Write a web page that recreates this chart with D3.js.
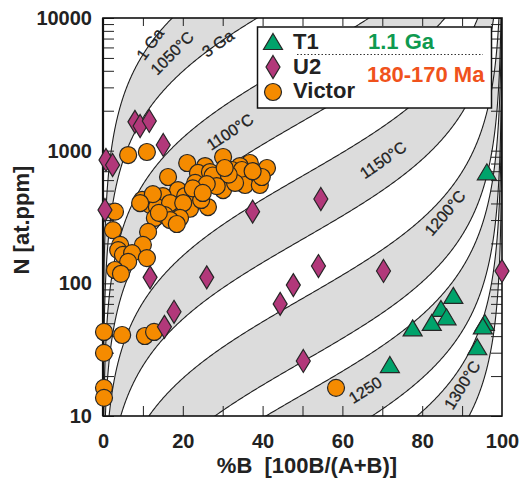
<!DOCTYPE html>
<html lang="en">
<head>
<meta charset="UTF-8">
<title>N vs %B isotherms</title>
<style>
  html, body { margin: 0; padding: 0; background: #fff; }
  svg text { font-family: "Liberation Sans", Arial, sans-serif; }
</style>
</head>
<body>
<svg id="chart" width="523" height="483"></svg>
<script src="https://cdn.jsdelivr.net/npm/d3@7"></script>
<script>
// isotherms: k*t (per at.ppm) at 1 Ga, band runs from 1 Ga to 3 Ga
const isoTemps = [1050, 1100, 1150, 1200, 1250, 1300];
const isoK1Ga = [2.1e-5, 2.0e-4, 1.55e-3, 0.013, 0.069, 0.37];
const ageFactor = 3;

// curve labels (data position)
const isoLabels = ["1 Ga", "1050°C", "3 Ga", "1100°C", "1150°C", "1200°C", "1250", "1300°C"];
const isoLabelB = [11.8, 17.3, 28.8, 31.8, 70.2, 85.7, 65.7, 90];
const isoLabelN = [6370, 5445, 6424, 1384, 850, 339, 15.7, 17.1];

// samples
const t1B = [87.8, 84.7, 86.1, 82.4, 77.6, 95.7, 95.2, 93.8, 71.9, 96.2];
const t1N = [79, 63, 54.5, 49.4, 45, 49.4, 46.6, 32.4, 23.8, 675];

const u2B = [8.0, 9.3, 11.6, 15.1, 0.75, 2.4, 0.5, 11.8, 26.0, 17.8, 15.4, 37.5, 54.6, 54.0, 47.7, 44.4, 70.3, 50.2, 100];
const u2N = [1650, 1535, 1675, 1104, 851, 780, 357, 111, 111, 61, 47, 347, 432, 135, 97, 70, 124, 26, 124];

const victorB = [6.3, 11.0, 30.1, 21.1, 25.6, 36.8, 41.1, 34.3, 16.3, 23.8, 28.8, 32.3, 34.8, 38.8, 26.8,
  23.1, 35.6, 30.1, 18.8, 33.1, 39.3, 39.8, 15.0, 20.6, 9.8, 11.8, 17.3, 21.8, 26.3, 24.6, 13.5, 16.8, 20.1,
  13.0, 19.3, 15.5, 16.8, 27.5, 31.5, 37.5, 28.5, 26.0, 22.5, 14.0, 18.5, 12.5, 30.5, 25.0, 9.3, 3.0,
  11.3, 2.5, 4.3, 10.0, 3.8, 5.0, 7.3, 11.0, 6.3, 3.0, 4.5,
  0.25, 4.8, 10.5, 12.8, 0.25, 0.25, 0.25, 58.4];
const victorN = [927, 977, 896, 807, 766, 807, 740, 766, 633, 679, 622, 715, 715, 622, 690,
  571, 551, 505, 505, 571, 551, 633, 455, 455, 425, 390, 357, 365, 376, 425, 376, 403, 403,
  311, 311, 327, 300, 650, 660, 700, 540, 560, 520, 340, 280, 470, 740, 480, 403, 347,
  244, 252, 195, 195, 178, 164, 169, 155, 145, 126, 118,
  43, 40.8, 40.1, 43, 29.9, 16.3, 13.7, 16.3];

const xTicksMajor = [0, 20, 40, 60, 80, 100];
const yTicksMajor = [10, 100, 1000, 10000];

const svg = d3.select("#chart");
const m = { l: 103, r: 502, t: 18, b: 416 };
const x = d3.scaleLinear().domain([0, 100]).range([m.l, m.r]);
const y = d3.scaleLog().domain([10, 10000]).range([m.b, m.t]);

svg.append("defs").append("clipPath").attr("id", "plot")
  .append("rect").attr("x", m.l).attr("y", m.t).attr("width", m.r - m.l).attr("height", m.b - m.t);

// second-order aggregation: %B = 100 kN/(1+kN)
function curvePts(K) {
  const pts = [];
  for (let lg = 0; lg <= 5.0001; lg += 0.004) {
    const N = Math.pow(10, lg);
    pts.push([100 * K * N / (1 + K * N), N]);
  }
  return pts;
}

const line = d3.line().x(d => x(d[0])).y(d => y(d[1]));
const gIso = svg.append("g").attr("clip-path", "url(#plot)");

isoK1Ga.forEach(k => {
  const a = curvePts(k), b = curvePts(k * ageFactor);
  gIso.append("path")
    .attr("d", line(a.concat(b.slice().reverse())) + "Z")
    .attr("fill", "#dcdcdc");
});
isoK1Ga.forEach(k => {
  [k, k * ageFactor].forEach(kk => {
    gIso.append("path").attr("d", line(curvePts(kk)))
      .attr("fill", "none").attr("stroke", "#1e1e1e").attr("stroke-width", 1.1);
  });
});

// slope of the curves only depends on %B
function angleAt(B) {
  const b = B / 100;
  const dlog = 1 / (Math.LN10 * b * (1 - b) * 100);
  const pxDec = y(10) - y(100);
  const pxB = x(1) - x(0);
  return Math.atan2(-dlog * pxDec, pxB) * 180 / Math.PI;
}

svg.append("g").selectAll("text").data(isoLabels).join("text")
  .attr("transform", (d, i) => `translate(${x(isoLabelB[i])},${y(isoLabelN[i])}) rotate(${angleAt(isoLabelB[i])})`)
  .attr("text-anchor", "middle").attr("dy", "0.35em")
  .attr("font-size", 16).attr("fill", "#222")
  .attr("stroke", "#222").attr("stroke-width", 0.3)
  .text(d => d);

// ticks
const minor = [];
[10, 100, 1000].forEach(d => { for (let i = 1; i < 10; i++) minor.push(d * i); });
minor.push(10000);

function styleTicks(g) {
  g.select(".domain").remove();
  g.selectAll(".tick line").attr("stroke", "#222").attr("stroke-width", 1);
}
svg.append("g").attr("transform", `translate(${m.l},0)`)
  .call(d3.axisLeft(y).tickValues(minor).tickSize(-11).tickFormat("")).call(styleTicks);
svg.append("g").attr("transform", `translate(${m.r},0)`)
  .call(d3.axisRight(y).tickValues(minor).tickSize(-11).tickFormat("")).call(styleTicks);
svg.append("g").attr("transform", `translate(0,${m.b})`)
  .call(d3.axisBottom(x).tickValues(d3.range(10, 100, 10)).tickSize(-10).tickFormat("")).call(styleTicks);
svg.append("g").attr("transform", `translate(0,${m.t})`)
  .call(d3.axisTop(x).tickValues(d3.range(10, 100, 10)).tickSize(-8).tickFormat("")).call(styleTicks);

// tick labels
const yl = svg.append("g").attr("transform", `translate(${m.l},0)`)
  .call(d3.axisLeft(y).tickValues(yTicksMajor).tickSize(0).tickPadding(11).tickFormat(d3.format("d")));
yl.select(".domain").remove();
yl.selectAll("text").attr("font-size", 20).attr("font-weight", "bold").attr("fill", "#222")
  .style("font-family", '"Liberation Sans", Arial, sans-serif');

const xl = svg.append("g").attr("transform", `translate(0,${m.b})`)
  .call(d3.axisBottom(x).tickValues(xTicksMajor).tickSize(0).tickPadding(18));
xl.select(".domain").remove();
xl.selectAll("text").attr("font-size", 20).attr("font-weight", "bold").attr("fill", "#222")
  .style("font-family", '"Liberation Sans", Arial, sans-serif');

// frame
svg.append("rect").attr("x", m.l).attr("y", m.t).attr("width", m.r - m.l).attr("height", m.b - m.t)
  .attr("fill", "none").attr("stroke", "#111").attr("stroke-width", 1.6);
svg.append("line").attr("x1", m.l).attr("x2", m.l).attr("y1", m.t).attr("y2", m.b)
  .attr("stroke", "#111").attr("stroke-width", 2.2);

// axis titles
svg.append("text").attr("x", 307).attr("y", 473).attr("text-anchor", "middle")
  .attr("font-size", 22).attr("font-weight", "bold").attr("fill", "#222")
  .style("white-space", "pre").text("%B  [100B/(A+B)]");
svg.append("text").attr("transform", "translate(29,220) rotate(-90)").attr("text-anchor", "middle")
  .attr("font-size", 22).attr("font-weight", "bold").attr("fill", "#222")
  .text("N [at.ppm]");

// markers
const orange = "#f58b00", magenta = "#b2387a", green = "#00a36b", edge = "#262626";
const diamond = "M0,-11.5L7,0L0,11.5L-7,0Z";
const triangle = "M0,-9.5L9.5,6.5L-9.5,6.5Z";

svg.append("g").selectAll("circle").data(victorB).join("circle")
  .attr("cx", d => x(d)).attr("cy", (d, i) => y(victorN[i])).attr("r", 8.5)
  .attr("fill", orange).attr("stroke", edge).attr("stroke-width", 1.2);

svg.append("g").selectAll("path").data(u2B).join("path")
  .attr("transform", (d, i) => `translate(${x(d)},${y(u2N[i])})`).attr("d", diamond)
  .attr("fill", magenta).attr("stroke", edge).attr("stroke-width", 1.2);

svg.append("g").selectAll("path").data(t1B).join("path")
  .attr("transform", (d, i) => `translate(${x(d)},${y(t1N[i])})`).attr("d", triangle)
  .attr("fill", green).attr("stroke", edge).attr("stroke-width", 1.2);

// legend
const lg = svg.append("g");
lg.append("rect").attr("x", 257.5).attr("y", 27).attr("width", 234).attr("height", 81)
  .attr("fill", "#fff").attr("stroke", "#111").attr("stroke-width", 1.5);
lg.append("path").attr("transform", "translate(273,43)").attr("d", triangle)
  .attr("fill", green).attr("stroke", edge).attr("stroke-width", 1.2);
lg.append("path").attr("transform", "translate(273,67)").attr("d", diamond)
  .attr("fill", magenta).attr("stroke", edge).attr("stroke-width", 1.2);
lg.append("circle").attr("cx", 273).attr("cy", 92).attr("r", 8.5)
  .attr("fill", orange).attr("stroke", edge).attr("stroke-width", 1.2);
[["T1", 49], ["U2", 74], ["Victor", 98]].forEach(([t, yy]) => {
  lg.append("text").attr("x", 293).attr("y", yy).attr("font-size", 22).attr("font-weight", "bold")
    .attr("fill", "#222").text(t);
});
lg.append("line").attr("x1", 297).attr("x2", 483).attr("y1", 54.5).attr("y2", 54.5)
  .attr("stroke", "#333").attr("stroke-width", 1).attr("stroke-dasharray", "1.5,2");
lg.append("text").attr("x", 368).attr("y", 49).attr("font-size", 22).attr("font-weight", "bold")
  .attr("fill", "#0f9a50").text("1.1 Ga");
lg.append("text").attr("x", 367).attr("y", 82).attr("font-size", 22).attr("font-weight", "bold")
  .attr("fill", "#f0521c").text("180-170 Ma");
</script>
</body>
</html>
